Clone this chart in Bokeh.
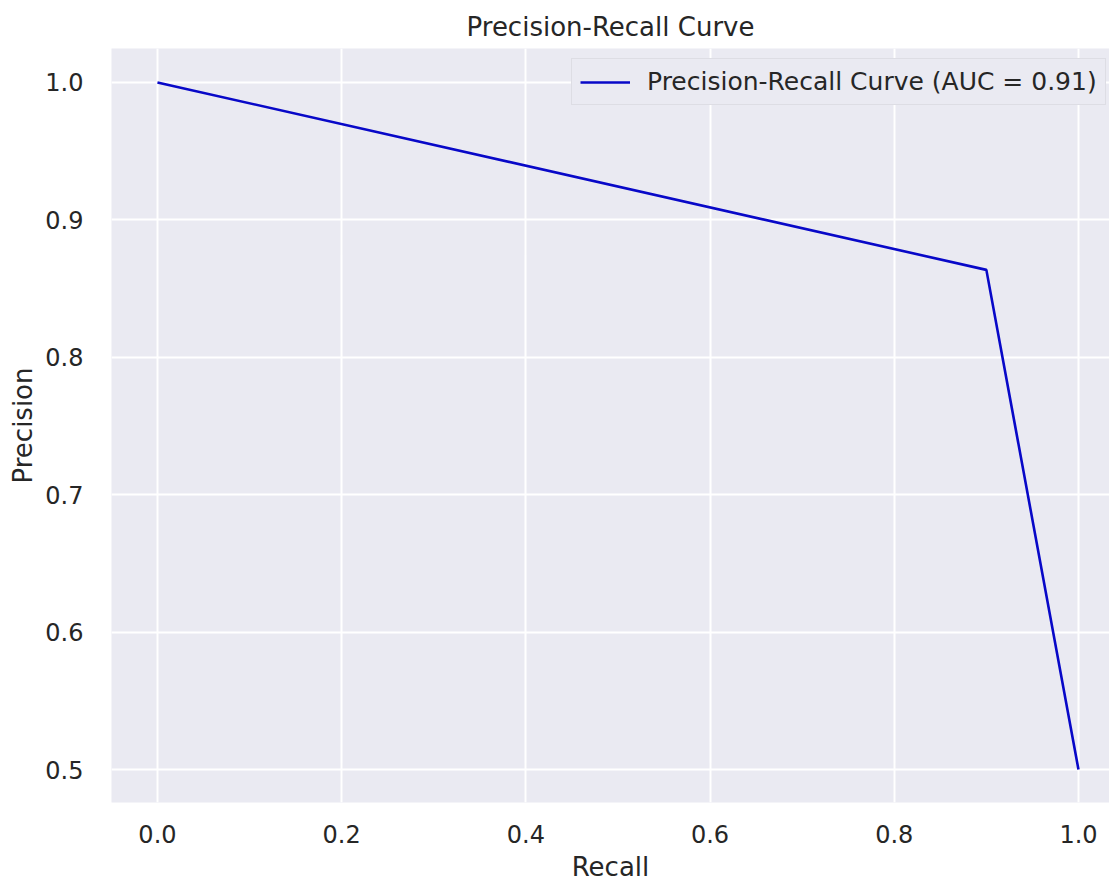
from bokeh.plotting import figure
from bokeh.models import Range1d, FixedTicker, Legend, LegendItem, PrintfTickFormatter
from bokeh.embed import file_html
from bokeh.resources import INLINE

# Data
recall = [0.0, 0.9, 1.0]
precision = [1.0, 0.8636, 0.5]
x_ticks = [0.0, 0.2, 0.4, 0.6, 0.8, 1.0]
y_ticks = [0.5, 0.6, 0.7, 0.8, 0.9, 1.0]
title_text = "Precision-Recall Curve"
legend_label = "Precision-Recall Curve (AUC = 0.91)"
x_label = "Recall"
y_label = "Precision"

TXT = "#262626"
FONT = "DejaVu Sans"

# frame: left 111, right 1109 (cut at the window edge), top 48, bottom 802
p = figure(width=1109, height=885, output_backend="svg", toolbar_location=None,
           x_range=Range1d(-0.0499, 1.0337), y_range=Range1d(0.4760, 1.0247),
           min_border_left=111, min_border_right=0, min_border_top=48,
           min_border_bottom=83)

p.background_fill_color = "#EAEAF2"
p.border_fill_color = "white"
p.outline_line_color = None

p.title.text = title_text
p.title.align = "center"
p.title.text_font = FONT
p.title.text_font_size = "26px"
p.title.text_font_style = "normal"
p.title.text_color = TXT
p.title.offset = 5
p.title.standoff = 14

r = p.line(recall, precision, line_color="#0808C8", line_width=2.6)

for ax in (p.xaxis[0], p.yaxis[0]):
    ax.axis_line_color = None
    ax.major_tick_line_color = None
    ax.minor_tick_line_color = None
    ax.major_label_text_font = FONT
    ax.major_label_text_font_size = "24px"
    ax.major_label_text_color = TXT
    ax.axis_label_text_font = FONT
    ax.axis_label_text_font_size = "26px"
    ax.axis_label_text_font_style = "normal"
    ax.axis_label_text_color = TXT
    ax.formatter = PrintfTickFormatter(format="%.1f")

p.xaxis[0].ticker = FixedTicker(ticks=x_ticks)
p.yaxis[0].ticker = FixedTicker(ticks=y_ticks)
p.xaxis[0].axis_label = x_label
p.yaxis[0].axis_label = y_label
p.xaxis[0].major_label_standoff = 16
p.yaxis[0].major_label_standoff = 22
p.xaxis[0].axis_label_standoff = 6
p.yaxis[0].axis_label_standoff = 4

p.xgrid.ticker = FixedTicker(ticks=x_ticks)
p.ygrid.ticker = FixedTicker(ticks=y_ticks)
p.grid.grid_line_color = "white"
p.grid.grid_line_width = 2

legend = Legend(items=[LegendItem(label=legend_label, renderers=[r])],
                location=(460, 697))
legend.background_fill_color = "#EAEAF2"
legend.background_fill_alpha = 1.0
legend.border_line_color = "#CFCFD6"
legend.border_line_width = 1
legend.label_text_font = FONT
legend.label_text_font_size = "25px"
legend.label_text_color = TXT
legend.glyph_width = 50
legend.glyph_height = 28
legend.label_height = 28
legend.label_standoff = 17
legend.padding = 8
legend.margin = 0
p.add_layout(legend)

open("out.html", "w").write(file_html(p, INLINE))
